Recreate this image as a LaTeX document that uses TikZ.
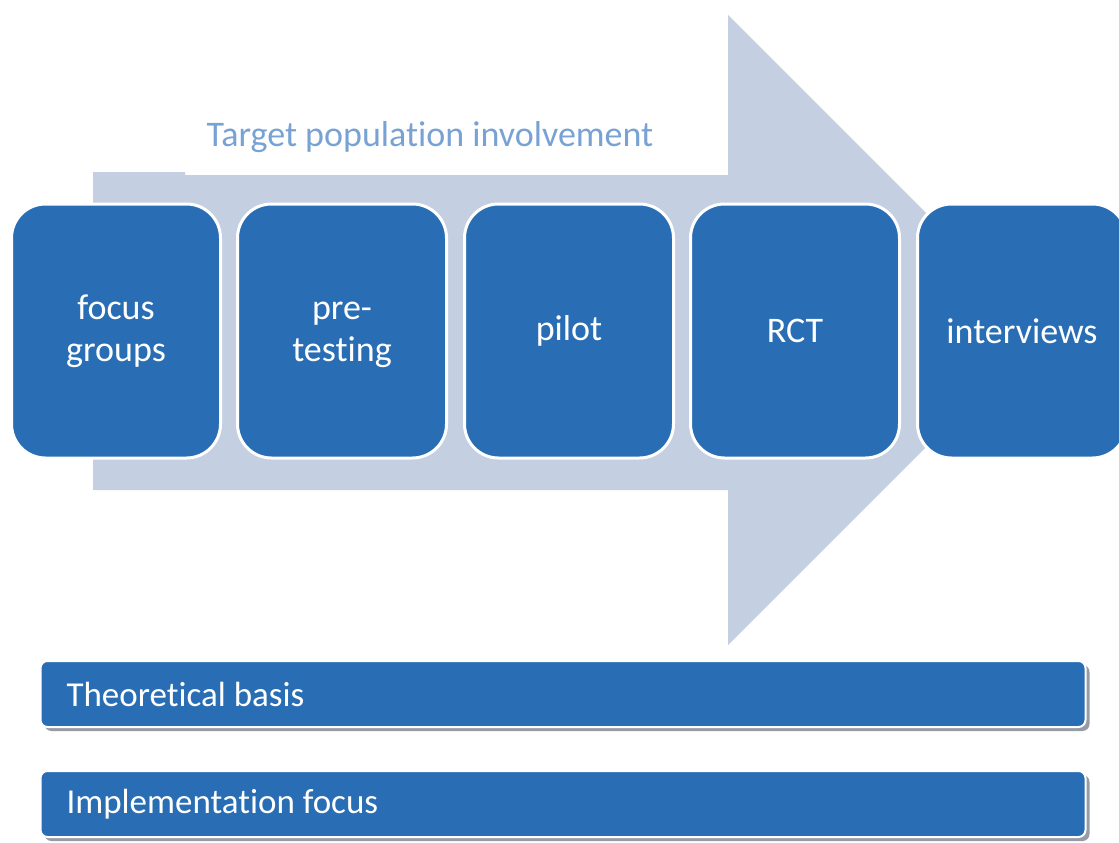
\documentclass[tikz,border=0pt]{standalone}
\usepackage{fontspec}
\setmainfont{Carlito}[Ligatures={NoCommon}]
\definecolor{boxblue}{RGB}{41,110,180}
\definecolor{arrowgray}{RGB}{197,207,226}
\definecolor{titleblue}{RGB}{120,162,212}
\definecolor{shadowgray}{RGB}{150,155,165}
\begin{document}
\begin{tikzpicture}[x=1pt,y=-1pt,
  stepbox/.style={rectangle, rounded corners=34pt, fill=boxblue, draw=white, line width=3pt,
    minimum width=209pt, minimum height=254pt, text=white, align=center,
    font=\fontsize{36}{42}\selectfont, inner sep=0pt},
  barbox/.style={rectangle, rounded corners=7pt, fill=boxblue, draw=white, line width=2pt,
    minimum width=1045pt, minimum height=66pt, text=white,
    font=\fontsize{35}{42}\selectfont, inner sep=0pt},
  barshadow/.style={rectangle, rounded corners=7pt, fill=shadowgray,
    minimum width=1045pt, minimum height=66pt, inner sep=0pt},
  titletext/.style={text=titleblue, font=\fontsize{36}{42}\selectfont}
]
\useasboundingbox (0,0) rectangle (1119,843);
% big arrow
\fill[arrowgray] (93,172) -- (185,172) -- (185,175) -- (728,175) -- (728,15) -- (1043,330)
  -- (728,645) -- (728,490) -- (93,490) -- cycle;
\node[titletext] (title) at (430,137) {Target population involvement};
% step boxes
\node[stepbox] (b1) at (116,331) {focus\\groups};
\node[stepbox] (b2) at (342,331) {\vphantom{f}pre-\\testing};
\node[stepbox] (b3) at (569,331) {pilot};
\node[stepbox] (b4) at (795,331) {RCT};
\node[stepbox] (b5) at (1022,331) {interviews};
% bottom bars
\node[barshadow] (s1) at (567,698) {};
\node[barbox] (t1) at (563,694) {};
\node[text=white, font=\fontsize{35}{42}\selectfont, anchor=west] (l1) at (63,694) {Theoretical basis};
\node[barshadow] (s2) at (567,808) {};
\node[barbox] (t2) at (563,804) {};
\node[text=white, font=\fontsize{35}{42}\selectfont, anchor=west] (l2) at (63,804) {Implementation focus};
\end{tikzpicture}
\end{document}
